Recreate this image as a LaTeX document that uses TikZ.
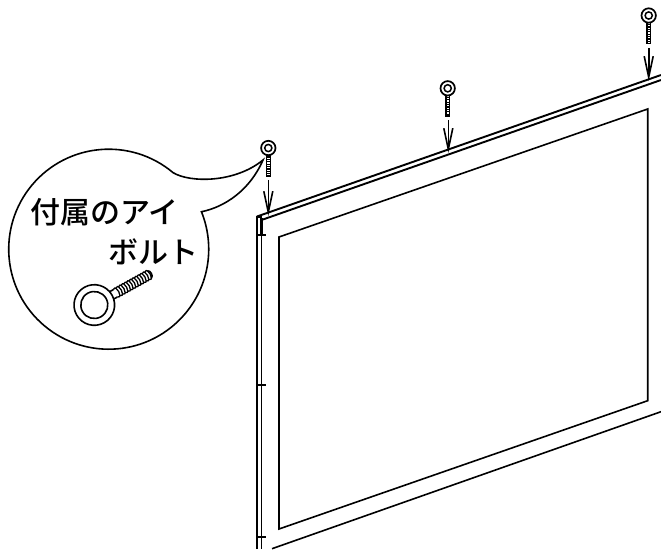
\documentclass[tikz,border=0pt]{standalone}
\usepackage{fontspec}
\usetikzlibrary{arrows.meta}
\newfontfamily\cjk{Noto Sans CJK JP Medium}
\tikzset{
  outline/.style={black,line width=1.6pt},
  barline/.style={black,line width=1.9pt},
  heavy/.style={black,line width=2.4pt},
  dropline/.style={black,line width=1.6pt,-{Straight Barb[length=21pt,width=9pt,line width=1.6pt]}},
  calltext/.style={inner sep=0pt,font=\cjk\fontsize{30}{30}\selectfont}
}
\newcommand{\smallbolt}[3]{
\begin{scope}[shift={(#1,-#2)},rotate=-90]
\draw [black,line width=1.7pt] (0,0) circle (7.2);
\draw [black,line width=1.5pt] (0,0) circle (3.6);
\draw [black,line width=1.4pt] (7,-1.9) -- (#3,-1.9) -- (#3,1.9) -- (7,1.9);
\foreach \t in {9,11.4,...,27} \draw [black,line width=1.2pt] (\t,-1.9) -- (\t,1.9);
\end{scope}
}
\begin{document}
\begin{tikzpicture}[x=1pt,y=1pt]
\useasboundingbox (0,0) rectangle (661,-549);
% panel
\draw [outline] (257,-549) -- (257,-217) -- (261.5,-217) -- (261.5,-549);
\draw [barline] (257,-216.5) -- (661,-75);
\draw [barline] (261.5,-220) -- (661,-80);
\draw [outline] (279,-529) -- (279,-237) -- (647.7,-109) -- (647.7,-400.7) -- cycle;
\draw [outline] (272,-548.7) -- (661,-411.7);
\draw [heavy] (261.5,-218) -- (261.5,-235);
\draw [heavy] (256,-235) -- (265.5,-235);
\draw [heavy] (256,-385) -- (265.5,-385);
\draw [heavy] (256,-537) -- (265.5,-537);
% arrows
\coordinate (start1) at (268.3,-180);
\coordinate (tip1) at (268.3,-216);
\coordinate (start2) at (448.3,-120);
\coordinate (tip2) at (448.3,-153);
\coordinate (start3) at (648.7,-48);
\coordinate (tip3) at (648.7,-81);
\foreach \n in {1,2,3} \draw [dropline] (start\n) -- (tip\n);
% bolts
\smallbolt{268.3}{148}{28}
\smallbolt{447.7}{88.3}{27.5}
\smallbolt{648.7}{15.5}{28}
% callout
\draw [outline] (173,-172.6) arc [start angle=50,end angle=382,radius=100]
  .. controls (225,-207) and (250,-190) .. (263,-160)
  .. controls (235,-183) and (190,-183) .. (173,-172.6);
\node [calltext] (lineone) at (104.7,-212) {付属のアイ};
\node [calltext] (linetwo) at (153.4,-252) {ボルト};
% large bolt
\begin{scope}[shift={(94.3,-305)},rotate=29]
\draw [outline] (0,0) circle (20.3);
\draw [outline] (0,0) circle (13.5);
\draw [outline] (20,-4.2) -- (24,-4.2);
\draw [outline] (20,4.2) -- (24,4.2);
\foreach \t in {24,27,...,60}
  \draw [black,line width=1.3pt] (\t,-4.2) .. controls (\t+1.5,-5.4) and (\t+3,-5) .. (\t+3,-4.2)
    (\t,4.2) .. controls (\t+1.5,5.4) and (\t+3,5) .. (\t+3,4.2)
    (\t+3,-4.2) .. controls (\t+4.2,-1) and (\t+4.2,1) .. (\t+3,4.2);
\draw [outline] (63,-4.2) .. controls (66,-3) and (66,3) .. (63,4.2);
\end{scope}
\end{tikzpicture}
\end{document}
